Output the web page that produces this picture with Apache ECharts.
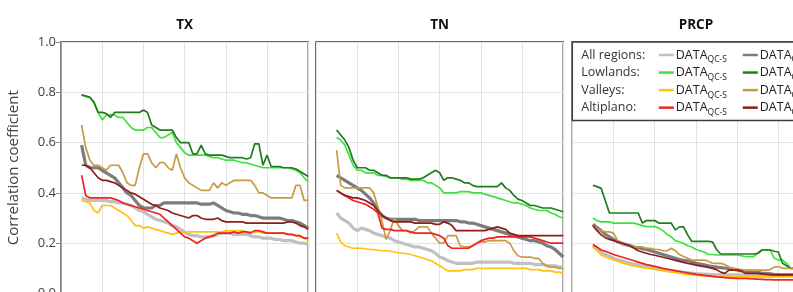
<!DOCTYPE html>
<html><head><meta charset="utf-8">
<script src="https://cdn.jsdelivr.net/npm/echarts@6/dist/echarts.min.js"></script>
<style>html,body{margin:0;padding:0;background:#fff}#c{width:793px;height:292px}</style>
</head><body><div id="c"></div>
<script>
// ---------- data ----------
const panelTitles = ['TX', 'TN', 'PRCP'];
const yTicks = [0, 0.2, 0.4, 0.6, 0.8, 1.0];
const xs = [5,6,7,8,9,10,11,12,13,14,15,16,17,18,19,20,21,22,23,24,25,26,27,28,29,30,31,32,33,34,35,36,37,38,39,40,41,42,43,44,45,46,47,48,49,50,51,52,53,54,55,56,57,58,59,60];

const regions = ['All regions:', 'Lowlands:', 'Valleys:', 'Altiplano:'];
const colorsQC = ['#c0c0c0', '#3fe03f', '#ffc20e', '#f02222'];
const colors2  = ['#7c7c7c', '#1f7d1f', '#c99a42', '#8e1c1c'];
const legendSub1 = 'QC-S';
const legendSub2 = 'QC-H';

// TX
const txAllQC = [.38,.375,.37,.37,.37,.37,.37,.365,.365,.36, .36,.355,.35,.34,.33,.325,.315,.305,.295,.29, .285,.28,.27,.265,.255,.245,.235,.23,.23,.225, .225,.225,.23,.235,.24,.24,.24,.235,.235,.235, .235,.23,.225,.225,.22,.22,.22,.215,.215,.21, .21,.21,.205,.20,.20,.195];
const txAll2  = [.59,.51,.50,.50,.50,.49,.48,.47,.46,.44, .42,.40,.39,.37,.35,.34,.34,.34,.35,.35, .36,.36,.36,.36,.36,.36,.36,.36,.36,.355, .355,.355,.36,.35,.34,.33,.325,.32,.32,.315, .315,.31,.31,.305,.30,.30,.30,.30,.30,.295, .29,.29,.285,.28,.27,.26];
const txLowQC = [.79,.785,.78,.76,.72,.69,.71,.71,.71,.70, .70,.68,.66,.65,.65,.65,.66,.66,.64,.62, .62,.63,.64,.60,.58,.56,.55,.55,.55,.55, .55,.545,.54,.54,.535,.53,.53,.53,.525,.52, .52,.515,.51,.505,.50,.50,.50,.50,.50,.50, .50,.495,.49,.48,.46,.445];
const txLow2  = [.79,.785,.78,.76,.72,.72,.715,.70,.72,.72, .72,.72,.72,.72,.72,.73,.72,.67,.66,.65, .65,.65,.65,.62,.60,.60,.60,.555,.555,.59, .555,.55,.55,.55,.55,.545,.54,.54,.54,.54, .535,.54,.595,.595,.51,.55,.505,.505,.505,.50, .50,.50,.495,.485,.475,.465];
const txValQC = [.37,.365,.36,.33,.32,.35,.35,.35,.34,.33, .32,.31,.29,.27,.27,.26,.265,.26,.255,.25, .245,.24,.235,.24,.245,.245,.245,.245,.245,.245, .245,.245,.245,.245,.245,.25,.25,.25,.25,.25, .245,.245,.245,.245,.24,.24,.24,.24,.24,.24, .235,.235,.23,.225,.22,.21];
const txVal2  = [.67,.58,.53,.51,.51,.50,.49,.51,.51,.51, .48,.44,.43,.43,.50,.555,.555,.52,.50,.52, .52,.50,.49,.555,.50,.46,.44,.43,.42,.41, .41,.41,.44,.42,.44,.43,.44,.45,.45,.45, .45,.45,.43,.40,.40,.39,.38,.38,.38,.38, .38,.38,.43,.43,.37,.37];
const txAltQC = [.47,.39,.38,.38,.38,.38,.38,.38,.375,.37, .36,.355,.35,.345,.34,.335,.33,.325,.32,.315, .30,.285,.27,.255,.24,.225,.22,.21,.20,.21, .22,.225,.23,.24,.24,.24,.24,.245,.24,.245, .245,.24,.25,.25,.245,.24,.24,.24,.24,.24, .235,.235,.23,.23,.22,.22];
const txAlt2  = [.51,.51,.50,.48,.46,.45,.45,.445,.44,.43, .42,.41,.40,.395,.385,.375,.365,.355,.35,.34, .335,.33,.32,.315,.31,.305,.30,.31,.31,.30, .295,.295,.295,.30,.29,.285,.285,.285,.285,.285, .28,.28,.28,.28,.28,.28,.28,.28,.28,.28, .285,.285,.28,.27,.265,.255];

// TN
const tnAllQC = [.32,.30,.29,.28,.26,.25,.26,.255,.25,.24, .235,.23,.225,.22,.21,.205,.20,.195,.19,.185, .185,.18,.175,.17,.16,.145,.14,.13,.125,.12, .12,.12,.12,.12,.125,.125,.125,.125,.125,.125, .125,.125,.125,.12,.12,.12,.12,.12,.115,.115, .115,.11,.11,.11,.105,.105];
const tnAll2  = [.47,.46,.45,.44,.43,.42,.41,.395,.38,.36, .33,.31,.30,.295,.295,.295,.295,.295,.295,.295, .29,.29,.29,.29,.29,.29,.29,.29,.29,.29, .285,.285,.28,.28,.275,.27,.265,.26,.255,.25, .245,.24,.235,.23,.225,.22,.215,.21,.21,.205, .20,.19,.185,.175,.16,.145];
const tnLowQC = [.62,.61,.59,.55,.51,.49,.49,.48,.48,.48, .47,.47,.465,.46,.46,.46,.455,.455,.45,.45, .45,.45,.44,.44,.43,.42,.40,.40,.40,.40, .405,.405,.405,.40,.40,.40,.395,.39,.385,.38, .375,.37,.365,.36,.36,.355,.35,.34,.335,.33, .33,.33,.32,.315,.305,.30];
const tnLow2  = [.65,.63,.61,.58,.53,.50,.50,.50,.49,.49, .48,.47,.47,.46,.46,.46,.46,.46,.455,.455, .455,.46,.47,.48,.49,.48,.45,.46,.46,.455, .45,.44,.44,.43,.425,.425,.425,.425,.425,.425, .44,.42,.41,.39,.375,.37,.36,.35,.35,.345, .34,.34,.34,.335,.33,.325];
const tnValQC = [.24,.205,.19,.185,.18,.18,.18,.178,.175,.175, .172,.17,.17,.168,.165,.162,.16,.158,.155,.15, .145,.14,.135,.13,.12,.11,.10,.09,.09,.09, .09,.095,.095,.095,.10,.10,.10,.10,.10,.10, .10,.10,.10,.10,.10,.10,.10,.095,.095,.095, .09,.09,.09,.085,.085,.08];
const tnVal2  = [.57,.43,.42,.42,.42,.42,.42,.42,.42,.40, .345,.29,.215,.25,.30,.27,.25,.25,.24,.25, .265,.265,.265,.24,.22,.20,.20,.23,.23,.23, .19,.185,.185,.19,.20,.205,.205,.21,.21,.21, .21,.21,.20,.17,.15,.145,.145,.145,.14,.14, .12,.11,.105,.105,.10,.10];
const tnAltQC = [.41,.40,.39,.38,.37,.365,.36,.355,.345,.335, .32,.26,.255,.255,.25,.25,.25,.25,.245,.24, .24,.24,.24,.24,.235,.23,.22,.19,.18,.18, .18,.18,.18,.19,.20,.21,.215,.22,.22,.225, .225,.225,.225,.225,.225,.225,.225,.225,.22,.215, .21,.205,.20,.20,.20,.20];
const tnAlt2  = [.41,.40,.39,.385,.38,.38,.375,.37,.36,.35, .33,.31,.30,.29,.285,.285,.285,.285,.285,.28, .28,.28,.28,.28,.275,.275,.285,.28,.27,.25, .25,.25,.25,.25,.25,.25,.25,.255,.26,.265, .26,.255,.24,.235,.23,.23,.23,.23,.23,.23, .23,.23,.23,.23,.23,.23];

// PRCP
const prAllQC = [.188,.175,.165,.155,.148,.14,.135,.13,.125,.12, .117,.114,.11,.106,.103,.10,.097,.094,.091,.089, .087,.085,.083,.082,.081,.079,.078,.077,.076,.075, .074,.074,.074,.074,.074,.074,.074,.074,.074,.074, .074,.074,.074,.074,.074,.074,.074,.074,.074,.074, .074,.074,.073,.073,.073,.073];
const prAll2  = [.275,.262,.25,.235,.225,.215,.207,.20,.195,.19, .185,.182,.178,.175,.17,.165,.16,.155,.15,.145, .14,.135,.132,.13,.125,.12,.117,.114,.11,.107, .105,.103,.101,.10,.097,.094,.09,.088,.087,.085, .083,.081,.08,.078,.076,.075,.074,.074,.074,.074, .073,.073,.072,.072,.071,.07];
const prLowQC = [.30,.29,.285,.285,.285,.28,.28,.28,.28,.28, .28,.275,.27,.266,.266,.266,.26,.25,.235,.225, .21,.205,.20,.19,.185,.175,.17,.165,.155,.155, .153,.153,.153,.153,.153,.153,.15,.147,.147,.147, .16,.173,.173,.173,.14,.133,.133,.12,.10,.10, .10,.095,.095,.09,.09,.09];
const prLow2  = [.43,.425,.418,.37,.32,.32,.32,.32,.32,.32, .32,.32,.28,.29,.29,.29,.28,.28,.28,.28, .253,.265,.265,.233,.207,.207,.207,.207,.207,.205, .175,.157,.157,.157,.157,.157,.157,.157,.157,.157, .16,.173,.173,.173,.168,.165,.12,.11,.10,.10, .10,.095,.095,.09,.09,.09];
const prValQC = [.19,.17,.153,.145,.14,.133,.128,.123,.118,.113, .11,.107,.104,.101,.099,.097,.094,.091,.088,.086, .084,.081,.078,.076,.074,.073,.071,.07,.069,.068, .067,.067,.067,.067,.067,.067,.067,.067,.067,.067, .066,.066,.066,.066,.066,.066,.066,.066,.066,.066, .066,.066,.065,.065,.065,.065];
const prVal2  = [.27,.26,.25,.245,.245,.24,.21,.195,.19,.19, .185,.185,.185,.18,.18,.175,.175,.17,.17,.18, .17,.155,.147,.14,.133,.133,.133,.133,.128,.12, .12,.12,.115,.105,.10,.097,.095,.093,.093,.093, .093,.093,.093,.095,.105,.107,.10,.10,.10,.10, .10,.10,.10,.10,.10,.10];
const prAltQC = [.195,.185,.173,.168,.162,.155,.15,.145,.14,.135, .13,.125,.12,.115,.112,.108,.104,.10,.097,.094, .091,.088,.085,.082,.079,.076,.074,.072,.07,.068, .066,.065,.063,.062,.061,.06,.06,.06,.059,.058, .057,.056,.055,.055,.054,.054,.054,.054,.054,.054, .054,.054,.053,.053,.053,.053];
const prAlt2  = [.27,.25,.233,.222,.215,.21,.205,.20,.195,.19, .18,.17,.165,.16,.155,.152,.148,.144,.14,.136, .132,.128,.124,.12,.117,.113,.11,.107,.104,.10, .095,.085,.08,.093,.093,.093,.09,.08,.08,.08, .08,.078,.076,.075,.074,.074,.074,.074,.074,.074, .074,.073,.073,.072,.072,.072];

// series per panel, ordered: [allQC, all2, lowQC, low2, valQC, val2, altQC, alt2]
const panelData = [
  [txAllQC, txAll2, txLowQC, txLow2, txValQC, txVal2, txAltQC, txAlt2],
  [tnAllQC, tnAll2, tnLowQC, tnLow2, tnValQC, tnVal2, tnAltQC, tnAlt2],
  [prAllQC, prAll2, prLowQC, prLow2, prValQC, prVal2, prAltQC, prAlt2]
];

// ---------- layout ----------
const FONT = '"Open Sans", "Liberation Sans", sans-serif';
const gridLefts = [61, 316, 572.3];
const gridW = 247.3, gridTop = 42, gridH = 251.5;

const grids = [], xAxes = [], yAxes = [], series = [];
gridLefts.forEach((l, i) => {
  grids.push({left: l, top: gridTop, width: gridW, height: gridH, show: true,
    outerBoundsMode: 'none', containLabel: false,
    borderColor: '#3c3c3c', borderWidth: 1.5, backgroundColor: 'transparent'});
  xAxes.push({type: 'value', gridIndex: i, min: 0, max: 60, interval: 10,
    axisLine: {show: false}, axisTick: {show: false}, axisLabel: {show: false},
    splitLine: {show: true, lineStyle: {color: '#e3e3e3', width: 1}}});
  yAxes.push({type: 'value', gridIndex: i, min: yTicks[0], max: yTicks[yTicks.length-1], interval: 0.2,
    axisLine: {show: i === 0, lineStyle: {color: '#8a8a8a', width: 1.5}},
    axisTick: {show: i === 0, length: 5, lineStyle: {color: '#8a8a8a', width: 1}},
    axisLabel: {show: i === 0, margin: 5, fontSize: 13, color: '#404040', fontFamily: FONT,
      formatter: v => v.toFixed(1)},
    splitLine: {show: true, lineStyle: {color: '#e3e3e3', width: 1}},
    name: i === 0 ? 'Correlation coefficient' : '',
    nameLocation: 'middle', nameRotate: 90, nameGap: 40,
    nameTextStyle: {fontSize: 15, color: '#404040', fontFamily: FONT}});
  panelData[i].forEach((vals, k) => {
    const r = Math.floor(k / 2), isQC = (k % 2 === 0);
    const thick = r === 0;
    series.push({type: 'line', xAxisIndex: i, yAxisIndex: i, symbol: 'none', silent: true,
      data: xs.map((x, j) => [x, vals[j]]),
      lineStyle: {color: isQC ? colorsQC[r] : colors2[r], width: thick ? 3.2 : 1.7},
      z: 2 + k});
  });
});

// legend graphic + titles
const graphic = [];
panelTitles.forEach((t, i) => {
  graphic.push({type: 'text', x: gridLefts[i] + gridW / 2, y: 25, z: 100,
    style: {text: t, fontSize: 13.5, fontWeight: 'bold', fill: '#111', fontFamily: FONT,
      align: 'center', verticalAlign: 'middle'}});
});
const lgX = gridLefts[2];
graphic.push({type: 'rect', z: 100, shape: {x: lgX, y: gridTop, width: 260, height: 78.5},
  style: {fill: '#fff', stroke: '#3c3c3c', lineWidth: 1.5}});
const meas = document.createElement('canvas').getContext('2d');
const LFS = 12.5;
meas.font = LFS + 'px ' + FONT;
const dataW = meas.measureText('DATA').width;
regions.forEach((name, r) => {
  const y = 55 + r * 17.55;
  graphic.push({type: 'text', z: 101, x: lgX + 9, y: y,
    style: {text: name, fontSize: LFS, fill: '#333', fontFamily: FONT, verticalAlign: 'middle'}});
  [[colorsQC[r], 86.5, legendSub1], [colors2[r], 170.5, legendSub2]].forEach(([c, off, sub]) => {
    graphic.push({type: 'line', z: 101, shape: {x1: lgX + off, y1: y, x2: lgX + off + 15, y2: y},
      style: {stroke: c, lineWidth: 2.5}});
    graphic.push({type: 'text', z: 101, x: lgX + off + 17, y: y,
      style: {text: 'DATA', fontSize: LFS, fill: '#222', fontFamily: FONT, verticalAlign: 'middle'}});
    graphic.push({type: 'text', z: 101, x: lgX + off + 17 + dataW, y: y + 5,
      style: {text: sub, fontSize: 8.5, fill: '#222', fontFamily: FONT, verticalAlign: 'middle'}});
  });
});

const chart = echarts.init(document.getElementById('c'), null, {renderer: 'canvas'});
chart.setOption({
  animation: false,
  backgroundColor: '#fff',
  grid: grids, xAxis: xAxes, yAxis: yAxes, series: series, graphic: graphic
});
</script>
</body></html>
